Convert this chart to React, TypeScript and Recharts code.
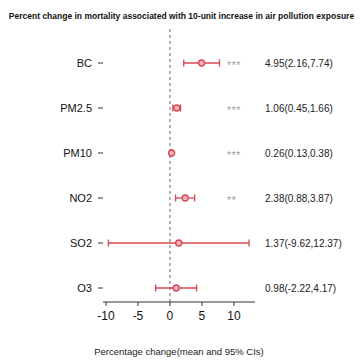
import React from 'react';
import { ComposedChart, Line, XAxis, YAxis, ReferenceLine, ErrorBar, Label } from 'recharts';

const pollutants = ['BC', 'PM2.5', 'PM10', 'NO2', 'SO2', 'O3'];
const estimates = [4.95, 1.06, 0.26, 2.38, 1.37, 0.98];
const lower = [2.16, 0.45, 0.13, 0.88, -9.62, -2.22];
const upper = [7.74, 1.66, 0.38, 3.87, 12.37, 4.17];
const stars = ['***', '***', '***', '**', '', ''];
const xTicks = [-10, -5, 0, 5, 10];

const RED = '#d8464f';
const PINK = '#f6b4bf';
const FONT = '"Liberation Sans", Arial, sans-serif';

const rows = pollutants.map((name, i) => ({
  name,
  est: estimates[i],
  err: [estimates[i] - lower[i], upper[i] - estimates[i]],
}));

// stars + "est(lo,hi)" column drawn as ticks of a right-hand axis
function RightTick(props: any) {
  const { x, y, payload } = props;
  const i = pollutants.indexOf(payload.value);
  const txt = `${estimates[i].toFixed(2)}(${lower[i].toFixed(2)},${upper[i].toFixed(2)})`;
  return (
    <g>
      <text x={x - 28} y={y} dy="0.6em" fontSize={10.5} fill="#a0a0a0" fontFamily={FONT} letterSpacing={0.6}>{stars[i]}</text>
      <text x={x + 10} y={y} dy="0.35em" fontSize={10} fill="#222" fontFamily={FONT}>{txt}</text>
    </g>
  );
}

export default function App() {
  return (
    <div style={{ position: 'absolute', left: 0, top: 0, width: 363, height: 363, background: '#fff', fontFamily: FONT }}>
      <div style={{ position: 'absolute', top: 11, width: 363, textAlign: 'center', fontSize: 8.5, fontWeight: 'bold', color: '#111' }}>
        Percent change in mortality associated with 10-unit increase in air pollution exposure
      </div>
      <ComposedChart width={363} height={363} data={rows} layout="vertical" margin={{ top: 27, right: 0, left: 0, bottom: 3 }}>
        <XAxis
          type="number"
          dataKey="est"
          domain={[-10, 13.3]}
          ticks={xTicks}
          padding={{ left: 3, right: 0 }}
          height={58}
          tickSize={4}
          tickMargin={5}
          stroke="#333"
          tick={{ fill: '#111', fontSize: 12, fontFamily: FONT }}
          allowDataOverflow
        >
          <Label value="Percentage change(mean and 95% CIs)" position="insideBottom" offset={5} fontSize={9.5} fill="#222" fontFamily={FONT} />
        </XAxis>
        <YAxis
          yAxisId="left"
          type="category"
          dataKey="name"
          width={103}
          axisLine={false}
          tickSize={5}
          tickMargin={6}
          stroke="#333"
          padding={{ top: 36, bottom: 14 }}
          tick={{ fill: '#111', fontSize: 11, fontFamily: FONT }}
        />
        <YAxis
          yAxisId="right"
          orientation="right"
          type="category"
          dataKey="name"
          width={108}
          axisLine={false}
          tickLine={false}
          tickSize={0}
          tickMargin={0}
          padding={{ top: 36, bottom: 14 }}
          tick={<RightTick />}
        />
        <ReferenceLine yAxisId="left" x={0} stroke="#666" strokeDasharray="3 3" />
        <Line
          yAxisId="left"
          dataKey="est"
          stroke="none"
          isAnimationActive={false}
          dot={{ r: 3, fill: PINK, stroke: RED, strokeWidth: 1.3 }}
          activeDot={false}
        >
          <ErrorBar dataKey="err" direction="x" width={3.5} stroke={RED} strokeWidth={1.3} />
        </Line>
      </ComposedChart>
    </div>
  );
}
